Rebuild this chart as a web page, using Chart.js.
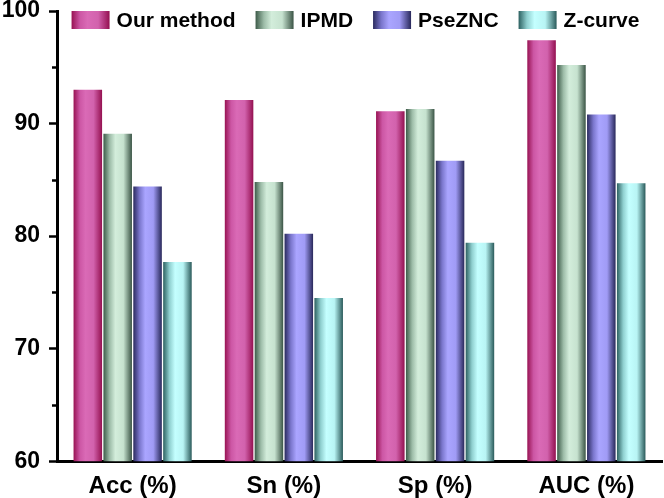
<!DOCTYPE html>
<html>
<head>
<meta charset="utf-8">
<script src="https://cdn.jsdelivr.net/npm/chart.js@4.4.0/dist/chart.umd.min.js"></script>
<style>
    html, body { margin: 0; padding: 0; background: #fff; }
    #wrap { width: 664px; height: 498px; }
</style>
</head>
<body>
<div id="wrap"><canvas id="barChart"></canvas></div>
<script>
// data
const categories = ['Acc (%)', 'Sn (%)', 'Sp (%)', 'AUC (%)'];
const seriesNames = ['Our method', 'IPMD', 'PseZNC', 'Z-curve'];
const ourMethod = [93.0, 92.1, 91.1, 97.4];
const ipmd = [89.1, 84.8, 91.3, 95.2];
const pseZNC = [84.4, 80.2, 86.7, 90.8];
const zCurve = [77.7, 74.5, 79.4, 84.7];
const yMinorTicks = [65, 75, 85, 95];

const FONT = 'Liberation Sans, Arial, sans-serif';

// edge -> highlight -> edge, for the cylinder look
const shades = [
    ['#981353', '#cc56a4', '#da6ab6', '#d262ad', '#941050'],
    ['#3d5b49', '#9dbca8', '#d3eddb', '#c6e2cf', '#3a5445'],
    ['#2a2a5e', '#7a76cc', '#aaa5ff', '#a09bf5', '#28285a'],
    ['#2c6060', '#8fcfcf', '#c4ffff', '#b8f4f4', '#2a5a5a']
];
const stopPos = [0, 0.22, 0.42, 0.7, 1];

function makeGrad(ctx, x0, x1, cols) {
    const g = ctx.createLinearGradient(x0, 0, x1, 0);
    cols.forEach((c, i) => g.addColorStop(stopPos[i], c));
    return g;
}

function barFill(i) {
    return function(c) {
        const el = c.element;
        if (!el || el.x == null || isNaN(el.x) || !el.width) return shades[i][2];
        return makeGrad(c.chart.ctx, el.x - el.width / 2, el.x + el.width / 2, shades[i]);
    };
}

const axisExtras = {
    id: 'axisExtras',
    afterDraw(chart) {
        const ctx = chart.ctx;
        const y = chart.scales.y;
        const area = chart.chartArea;
        ctx.save();
        // minor ticks
        ctx.strokeStyle = '#000';
        ctx.lineWidth = 2.5;
        yMinorTicks.forEach(v => {
            const py = Math.round(y.getPixelForValue(v)) + 0.5;
            ctx.beginPath();
            ctx.moveTo(area.left - 5, py);
            ctx.lineTo(area.left, py);
            ctx.stroke();
        });
        // legend inside the plot, one row along the top
        const boxW = 38, boxH = 18, textGap = 7, itemGap = 20;
        ctx.font = 'bold 21px ' + FONT;
        const widths = seriesNames.map(n => boxW + textGap + ctx.measureText(n).width);
        const total = widths.reduce((a, b) => a + b, 0) + itemGap * (widths.length - 1);
        let x = (area.left + area.right) / 2 - total / 2 - 4;
        const top = area.top;
        ctx.textBaseline = 'middle';
        ctx.textAlign = 'left';
        seriesNames.forEach((n, i) => {
            ctx.fillStyle = makeGrad(ctx, x, x + boxW, shades[i]);
            ctx.fillRect(x, top, boxW, boxH);
            ctx.fillStyle = '#000';
            ctx.fillText(n, x + boxW + textGap, top + boxH / 2 + 1);
            x += widths[i] + itemGap;
        });
        ctx.restore();
    }
};

const datasets = [ourMethod, ipmd, pseZNC, zCurve].map((vals, i) => ({
    label: seriesNames[i],
    data: vals,
    backgroundColor: barFill(i),
    borderWidth: 0,
    categoryPercentage: 0.79,
    barPercentage: 0.955
}));

const chart = new Chart(document.getElementById('barChart'), {
    type: 'bar',
    data: { labels: categories, datasets: datasets },
    options: {
        responsive: true,
        maintainAspectRatio: false,
        animation: false,
        layout: { padding: { left: 0, right: 2, top: 11, bottom: -14 } },
        plugins: {
            legend: { display: false },
            tooltip: { enabled: false }
        },
        scales: {
            x: {
                grid: { display: false, drawTicks: false },
                border: { display: true, color: '#000', width: 3 },
                ticks: {
                    color: '#000',
                    padding: 11,
                    font: { family: FONT, size: 24, weight: 'bold' }
                }
            },
            y: {
                min: 60,
                max: 100,
                afterFit(s) {
                    s.width = 57;
                    s.paddingTop = 0;
                    s.paddingBottom = 0;
                },
                grid: { drawOnChartArea: false, drawTicks: true, tickLength: 8, tickWidth: 2.5, tickColor: '#000' },
                border: { display: true, color: '#000', width: 3 },
                ticks: {
                    stepSize: 10,
                    color: '#000',
                    padding: 9,
                    font: { family: FONT, size: 23, weight: 'bold' }
                }
            }
        }
    },
    plugins: [axisExtras]
});
// second pass so the bar gradients can use the laid-out bar positions
chart.update();
</script>
</body>
</html>
